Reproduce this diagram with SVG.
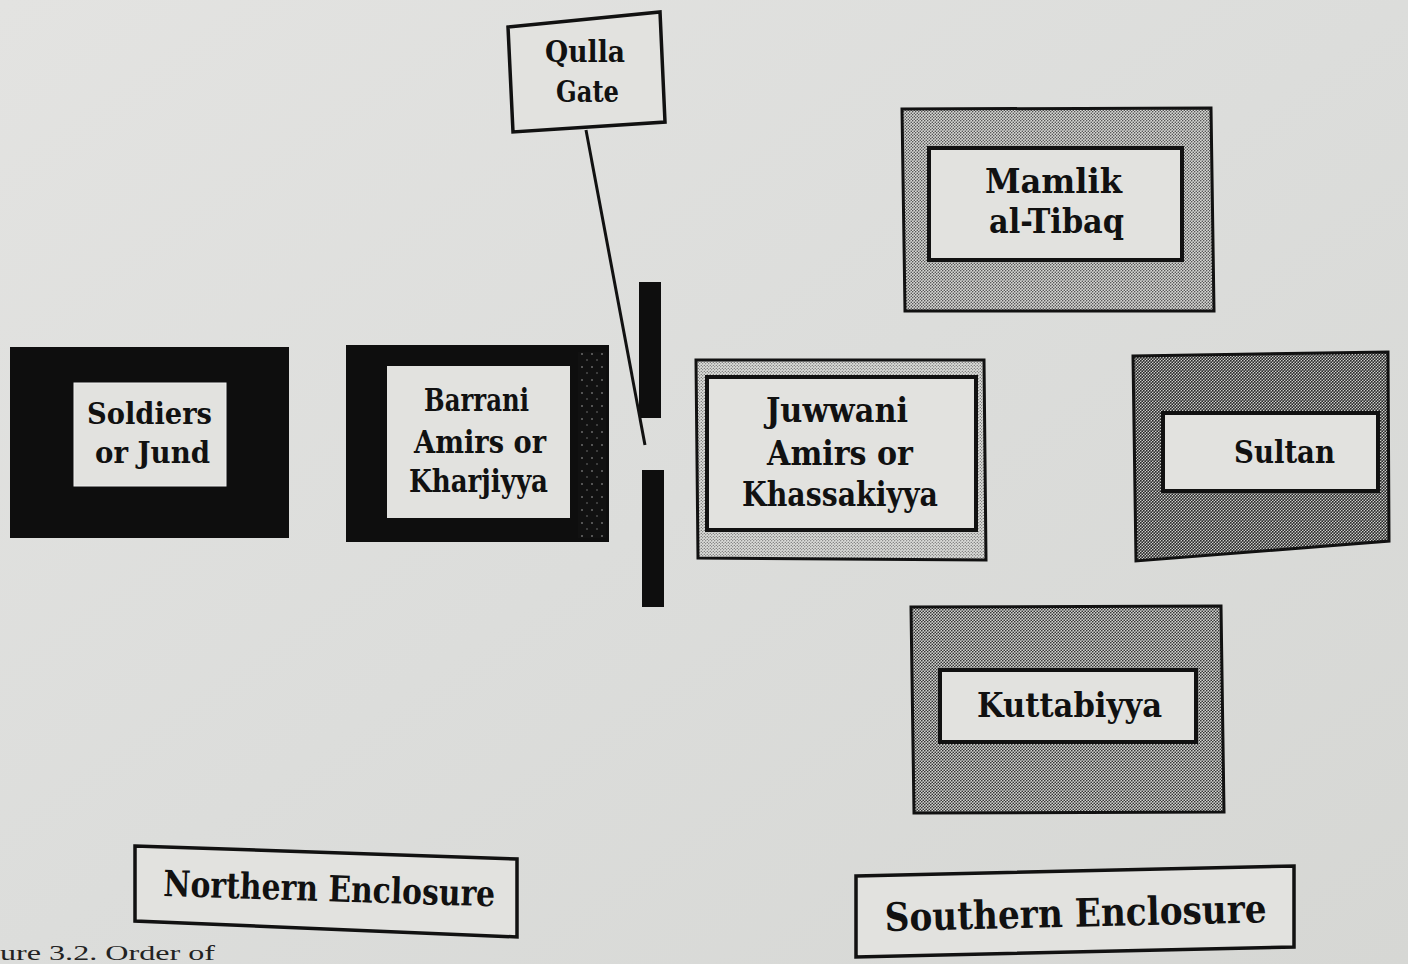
<svg xmlns="http://www.w3.org/2000/svg" width="1408" height="964" viewBox="0 0 1408 964">
<defs>
  <linearGradient id="bg" x1="0" y1="0" x2="1" y2="1">
    <stop offset="0" stop-color="#e3e3e1"/>
    <stop offset="0.5" stop-color="#dcdddb"/>
    <stop offset="1" stop-color="#d6d7d4"/>
  </linearGradient>
  <pattern id="htLight" width="3" height="3" patternUnits="userSpaceOnUse">
    <rect width="3" height="3" fill="#dcddda"/>
    <circle cx="0.75" cy="0.75" r="0.6" fill="#444"/>
    <circle cx="2.25" cy="2.25" r="0.6" fill="#444"/>
  </pattern>
  <pattern id="htMed" width="3" height="3" patternUnits="userSpaceOnUse">
    <rect width="3" height="3" fill="#d8d9d6"/>
    <circle cx="0.75" cy="0.75" r="0.72" fill="#3a3a3a"/>
    <circle cx="2.25" cy="2.25" r="0.72" fill="#3a3a3a"/>
  </pattern>
  <pattern id="htDark" width="3" height="3" patternUnits="userSpaceOnUse">
    <rect width="3" height="3" fill="#d2d3d0"/>
    <circle cx="0.75" cy="0.75" r="0.85" fill="#333"/>
    <circle cx="2.25" cy="2.25" r="0.85" fill="#333"/>
  </pattern>
  <pattern id="htDarker" width="3" height="3" patternUnits="userSpaceOnUse">
    <rect width="3" height="3" fill="#cbccc9"/>
    <circle cx="0.75" cy="0.75" r="0.95" fill="#2a2a2a"/>
    <circle cx="2.25" cy="2.25" r="0.95" fill="#2a2a2a"/>
  </pattern>
  <pattern id="speck" width="10" height="13" patternUnits="userSpaceOnUse">
    <rect width="10" height="13" fill="#111"/>
    <circle cx="2" cy="3" r="0.8" fill="#aaa"/>
    <circle cx="7" cy="9" r="0.7" fill="#888"/>
  </pattern>
</defs>
<style>
  .lbl { font-family: "DejaVu Serif", "Liberation Serif", serif; font-weight: bold; fill: #111; }
  .inner { fill: #e2e2df; }
  .innerB { fill: #e2e2df; stroke: #111; stroke-width: 4; }
  .plain { fill: #e2e2df; stroke: #111; stroke-width: 3.5; }
  .blk { fill: #0e0e0e; }
  .conn { stroke: #111; stroke-width: 3; fill: none; }
  .cap { font-family: "Liberation Serif", serif; font-size: 22px; fill: #222; }
</style>
<rect width="1408" height="964" fill="url(#bg)"/>

<g id="qulla-gate">
  <polygon class="plain" points="508,27 660,12 665,122 513,132"/>
  <text class="lbl" x="545" y="62" font-size="30" textLength="80" lengthAdjust="spacingAndGlyphs">Qulla</text>
  <text class="lbl" x="556" y="102" font-size="30" textLength="63" lengthAdjust="spacingAndGlyphs">Gate</text>
</g>

<g id="gate-wall">
  <rect class="blk" x="639" y="282" width="22" height="136"/>
  <rect class="blk" x="642" y="470" width="22" height="137"/>
</g>

<g id="connectors">
  <line class="conn" x1="586" y1="130" x2="645" y2="445"/>
</g>

<g id="soldiers">
  <rect class="blk" x="10" y="347" width="279" height="191"/>
  <rect class="inner" x="74" y="383" width="152" height="103" stroke="#f0f0f0" stroke-width="1"/>
  <text class="lbl" x="87" y="424" font-size="30" textLength="125" lengthAdjust="spacingAndGlyphs">Soldiers</text>
  <text class="lbl" x="95" y="463" font-size="30" textLength="115" lengthAdjust="spacingAndGlyphs">or Jund</text>
</g>

<g id="barrani">
  <rect class="blk" x="346" y="345" width="263" height="197"/>
  <rect x="578" y="352" width="28" height="186" fill="url(#speck)"/>
  <rect class="inner" x="387" y="366" width="183" height="152"/>
  <text class="lbl" x="424" y="411" font-size="31" textLength="105" lengthAdjust="spacingAndGlyphs">Barrani</text>
  <text class="lbl" x="414" y="453" font-size="31" textLength="132" lengthAdjust="spacingAndGlyphs">Amirs or</text>
  <text class="lbl" x="409" y="492" font-size="31" textLength="139" lengthAdjust="spacingAndGlyphs">Kharjiyya</text>
</g>

<g id="juwwani">
  <polygon points="696,360 984,360 986,560 698,558" fill="url(#htLight)" stroke="#111" stroke-width="3"/>
  <rect class="innerB" x="707" y="377" width="269" height="153"/>
  <text class="lbl" x="766" y="422" font-size="33" textLength="142" lengthAdjust="spacingAndGlyphs">Juwwani</text>
  <text class="lbl" x="767" y="465" font-size="33" textLength="146" lengthAdjust="spacingAndGlyphs">Amirs or</text>
  <text class="lbl" x="742" y="506" font-size="33" textLength="196" lengthAdjust="spacingAndGlyphs">Khassakiyya</text>
</g>

<g id="mamlik">
  <polygon points="902,109 1211,108 1214,311 905,311" fill="url(#htMed)" stroke="#111" stroke-width="3"/>
  <rect class="innerB" x="929" y="148" width="253" height="112"/>
  <text class="lbl" x="985" y="193" font-size="33" textLength="137" lengthAdjust="spacingAndGlyphs">Mamlik</text>
  <text class="lbl" x="989" y="233" font-size="33" textLength="135" lengthAdjust="spacingAndGlyphs">al-Tibaq</text>
</g>

<g id="sultan">
  <polygon points="1133,356 1388,352 1389,541 1136,561" fill="url(#htDarker)" stroke="#111" stroke-width="3"/>
  <rect class="innerB" x="1163" y="413" width="215" height="78"/>
  <text class="lbl" x="1234" y="463" font-size="32" textLength="101" lengthAdjust="spacingAndGlyphs">Sultan</text>
</g>

<g id="kuttabiyya">
  <polygon points="911,607 1221,606 1224,812 914,813" fill="url(#htDark)" stroke="#111" stroke-width="3"/>
  <rect class="innerB" x="940" y="670" width="256" height="72"/>
  <text class="lbl" x="977" y="717" font-size="33" textLength="185" lengthAdjust="spacingAndGlyphs">Kuttabiyya</text>
</g>

<g id="northern-enclosure">
  <polygon class="plain" points="135,846 517,859 517,937 135,921"/>
  <text class="lbl" x="163" y="896" font-size="36" textLength="332" lengthAdjust="spacingAndGlyphs" transform="rotate(1.8 163 896)">Northern Enclosure</text>
</g>

<g id="southern-enclosure">
  <polygon class="plain" points="856,876 1294,866 1294,947 856,957"/>
  <text class="lbl" x="885" y="931" font-size="39" textLength="382" lengthAdjust="spacingAndGlyphs" transform="rotate(-1.3 885 931)">Southern Enclosure</text>
</g>

<text class="cap" x="0" y="960" textLength="215" lengthAdjust="spacingAndGlyphs">ure 3.2. Order of</text>
</svg>
